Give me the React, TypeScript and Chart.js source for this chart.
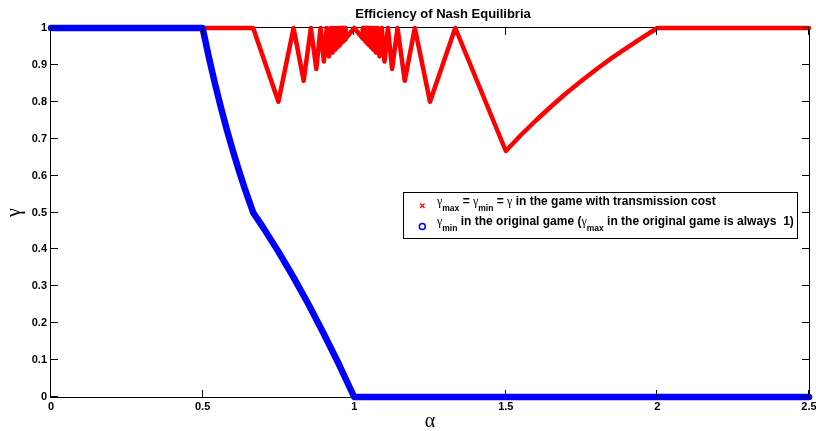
import { useEffect, useRef } from "react";
import { Chart, registerables } from "chart.js";

Chart.register(...registerables);

// ---- data ----
const chartTitle = "Efficiency of Nash Equilibria";
const xTitle = "α";
const yTitle = "γ";

// Red series: γmax = γmin = γ in the game with transmission cost
const redFlatAlpha = [0, 0.5, 0.6667];
const redFlatGamma = [1, 1, 1];
const redLeftAlpha = [0.75, 0.8, 0.8333, 0.8571, 0.875, 0.8889, 0.9, 0.9091, 0.9167, 0.9231, 0.9286, 0.9333, 0.9375, 0.9412, 0.9444, 0.9474, 0.95, 0.9524, 0.9545, 0.9565, 0.9583, 0.96, 0.9615, 0.963, 0.9643, 0.9655, 0.9667, 0.9688, 0.9697, 0.9706, 0.9714, 0.9722, 0.973, 1.0];
const redLeftGamma = [0.8, 1, 0.8571, 1, 0.8889, 1, 0.9091, 1, 0.9231, 1, 0.9333, 1, 0.9412, 1, 0.9474, 1, 0.9524, 1, 0.9565, 1, 0.96, 1, 0.963, 1, 0.9655, 1, 0.9677, 1, 0.9697, 1, 0.9714, 1, 0.973, 1];
const redRightAlpha = [1.027, 1.0278, 1.0286, 1.0294, 1.0303, 1.0313, 1.0333, 1.0345, 1.0357, 1.037, 1.0385, 1.04, 1.0417, 1.0435, 1.0455, 1.0476, 1.05, 1.0526, 1.0556, 1.0588, 1.0625, 1.0667, 1.0714, 1.0769, 1.0833, 1.0909, 1.1, 1.1111, 1.125, 1.1429, 1.1667, 1.2, 1.25, 1.3333];
const redRightGamma = [0.973, 1, 0.9714, 1, 0.9697, 1, 0.9677, 1, 0.9655, 1, 0.963, 1, 0.96, 1, 0.9565, 1, 0.9524, 1, 0.9474, 1, 0.9412, 1, 0.9333, 1, 0.9231, 1, 0.9091, 1, 0.8889, 1, 0.8571, 1, 0.8, 1];
const redTailAlpha = [1.5, 1.55, 1.6, 1.65, 1.7, 1.75, 1.8, 1.85, 1.9, 1.95, 2.0, 2.5];
const redTailGamma = [0.6667, 0.71, 0.75, 0.788, 0.824, 0.857, 0.889, 0.919, 0.947, 0.974, 1, 1];

// Blue series: γmin in the original game
const blueAlpha = [0, 0.5, 0.52, 0.54, 0.56, 0.58, 0.6, 0.62, 0.64, 0.6667, 0.7, 0.75, 0.8, 0.85, 0.9, 0.95, 1.0, 2.5];
const blueGamma = [1, 1, 0.923, 0.852, 0.786, 0.724, 0.667, 0.613, 0.5625, 0.5, 0.459, 0.394, 0.324, 0.25, 0.171, 0.088, 0, 0];

const xTickValues = [0, 0.5, 1, 1.5, 2, 2.5];
const yTickValues = [0, 0.1, 0.2, 0.3, 0.4, 0.5, 0.6, 0.7, 0.8, 0.9, 1];

// legend text runs: [text, kind]  g = greek, s = subscript, b = bold text
const legendRed: [string, string][] = [
  ["γ", "g"], ["max", "s"], [" = ", "b"], ["γ", "g"], ["min", "s"], [" = ", "b"], ["γ", "g"], [" in the game with transmission cost", "b"],
];
const legendBlue: [string, string][] = [
  ["γ", "g"], ["min", "s"], [" in the original game (", "b"], ["γ", "g"], ["max", "s"], [" in the original game is always  1)", "b"],
];

const SANS = '"Liberation Sans", Arial, Helvetica, sans-serif';
const SERIF = '"Liberation Serif", "Times New Roman", serif';

function pts(xs: number[], ys: number[]) {
  return xs.map((x, i) => ({ x, y: ys[i] }));
}

function drawRuns(ctx: CanvasRenderingContext2D, runs: [string, string][], x: number, y: number) {
  let cx = x;
  for (const [t, k] of runs) {
    let dy = 0;
    if (k === "g") ctx.font = `12px ${SERIF}`;
    else if (k === "s") { ctx.font = `bold 8.5px ${SANS}`; dy = 6; }
    else ctx.font = `bold 12px ${SANS}`;
    ctx.fillText(t, cx, y + dy);
    cx += ctx.measureText(t).width;
  }
}

const decor = {
  id: "decor",
  beforeDatasetsDraw(chart: any) {
    const { ctx, chartArea: a } = chart;
    ctx.save();
    ctx.strokeStyle = "#000";
    ctx.lineWidth = 1;
    ctx.strokeRect(a.left - 0.5, a.top - 0.5, a.right - a.left + 1, a.bottom - a.top + 1);
    ctx.restore();
  },
  afterDatasetsDraw(chart: any) {
    const { ctx, chartArea: a, scales } = chart;
    const L = 7;
    ctx.save();
    ctx.strokeStyle = "#000";
    ctx.lineWidth = 1;
    ctx.beginPath();
    for (const v of xTickValues) {
      const px = Math.round(scales.x.getPixelForValue(v)) - 0.5;
      ctx.moveTo(px, a.bottom); ctx.lineTo(px, a.bottom - L);
      ctx.moveTo(px, a.top); ctx.lineTo(px, a.top + L);
    }
    for (const v of yTickValues) {
      const py = Math.round(scales.y.getPixelForValue(v)) - 0.5;
      ctx.moveTo(a.left, py); ctx.lineTo(a.left + L, py);
      ctx.moveTo(a.right, py); ctx.lineTo(a.right - L, py);
    }
    ctx.stroke();
    ctx.restore();
  },
  afterDraw(chart: any) {
    const { ctx } = chart;
    ctx.save();
    // title
    ctx.fillStyle = "#000";
    ctx.font = `bold 13px ${SANS}`;
    ctx.textAlign = "center";
    ctx.textBaseline = "alphabetic";
    ctx.fillText(chartTitle, 443, 17.5);
    // legend box
    const bx = 403, by = 192, bw = 394, bh = 46;
    ctx.fillStyle = "#fff";
    ctx.fillRect(bx, by, bw, bh);
    ctx.strokeStyle = "#000";
    ctx.lineWidth = 1;
    ctx.strokeRect(bx + 0.5, by + 0.5, bw, bh);
    // markers
    ctx.strokeStyle = "#ff0000";
    ctx.lineWidth = 1.2;
    ctx.beginPath();
    ctx.moveTo(420, 203.5); ctx.lineTo(424.5, 208);
    ctx.moveTo(424.5, 203.5); ctx.lineTo(420, 208);
    ctx.stroke();
    ctx.strokeStyle = "#0000ff";
    ctx.lineWidth = 1.5;
    ctx.beginPath();
    ctx.arc(422.3, 226.5, 3, 0, Math.PI * 2);
    ctx.stroke();
    // text
    ctx.fillStyle = "#000";
    ctx.textAlign = "left";
    drawRuns(ctx, legendRed, 437, 204.5);
    drawRuns(ctx, legendBlue, 437, 224.5);
    ctx.restore();
  },
};

export default function App() {
  const ref = useRef<HTMLCanvasElement | null>(null);
  useEffect(() => {
    if (!ref.current) return;
    const tickFont = { family: SANS, size: 11, weight: "bold" as const };
    const chart = new Chart(ref.current, {
      type: "scatter",
      data: {
        datasets: [
          {
            label: "gamma_min original",
            data: pts(blueAlpha, blueGamma),
            showLine: true,
            borderColor: "#0000ff",
            backgroundColor: "#0000ff",
            borderWidth: 6.5,
            pointRadius: 0,
            borderJoinStyle: "round",
            borderCapStyle: "round",
            order: 0,
            clip: 10,
          },
          {
            label: "gamma with transmission cost",
            data: [
              ...pts(redFlatAlpha, redFlatGamma),
              ...pts(redLeftAlpha, redLeftGamma),
              ...pts(redRightAlpha, redRightGamma),
              ...pts(redTailAlpha, redTailGamma),
            ],
            showLine: true,
            borderColor: "#ff0000",
            backgroundColor: "#ff0000",
            borderWidth: 4.5,
            pointRadius: 0,
            borderJoinStyle: "round",
            borderCapStyle: "round",
            order: 1,
            clip: 10,
          },
        ],
      },
      options: {
        responsive: false,
        animation: false,
        devicePixelRatio: 1,
        events: [],
        layout: { padding: { top: 28, right: 7, bottom: 0, left: 0 } },
        plugins: {
          legend: { display: false },
          tooltip: { enabled: false },
          title: { display: false },
        },
        scales: {
          x: {
            type: "linear",
            min: 0,
            max: 2.5,
            afterBuildTicks: (s: any) => { s.ticks = xTickValues.map((v) => ({ value: v })); },
            afterFit: (s: any) => { s.height = 34; s.paddingLeft = 0; s.paddingRight = 0; s.paddingTop = 0; s.paddingBottom = 0; },
            ticks: {
              font: tickFont,
              color: "#000",
              padding: 3,
              maxRotation: 0,
              autoSkip: false,
              callback: (v: any) => String(Math.round(Number(v) * 10) / 10),
            },
            grid: { display: false, drawTicks: false },
            border: { display: false },
            title: {
              display: true,
              text: xTitle,
              color: "#000",
              font: { family: SERIF, size: 20, lineHeight: 1 },
              padding: { top: 0, bottom: -1 },
            },
          },
          y: {
            type: "linear",
            min: 0,
            max: 1,
            afterBuildTicks: (s: any) => { s.ticks = yTickValues.map((v) => ({ value: v })); },
            afterFit: (s: any) => { s.width = 51; s.paddingLeft = 0; s.paddingRight = 0; s.paddingTop = 0; s.paddingBottom = 0; },
            ticks: {
              font: tickFont,
              color: "#000",
              padding: 4,
              autoSkip: false,
              callback: (v: any) => String(Math.round(Number(v) * 10) / 10),
            },
            grid: { display: false, drawTicks: false },
            border: { display: false },
            title: {
              display: true,
              text: yTitle,
              color: "#000",
              font: { family: SERIF, size: 20, lineHeight: 1 },
              padding: { top: 5, bottom: 0 },
            },
          },
        },
      },
      plugins: [decor],
    });
    return () => chart.destroy();
  }, []);
  return (
    <div style={{ position: "fixed", left: 0, top: 0, width: 816, height: 431, background: "#fff" }}>
      <canvas ref={ref} width={816} height={431} style={{ display: "block", width: 816, height: 431 }} />
    </div>
  );
}
